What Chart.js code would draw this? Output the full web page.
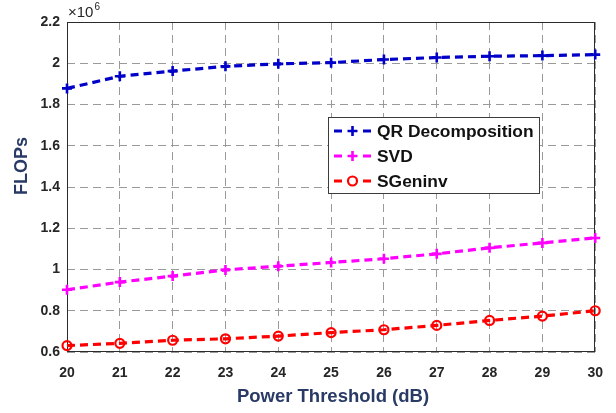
<!DOCTYPE html>
<html>
<head>
<meta charset="utf-8">
<script src="https://cdn.jsdelivr.net/npm/chart.js@4/dist/chart.umd.min.js"></script>
<style>
  html, body { margin: 0; padding: 0; background: #ffffff; }
  #wrap { width: 616px; height: 413px; }
</style>
</head>
<body>
<div id="wrap"><canvas id="c" width="616" height="413"></canvas></div>
<script>
// ---- data ----
const powerThresholdDb = [20, 21, 22, 23, 24, 25, 26, 27, 28, 29, 30];
const qrFlops      = [1878000, 1937000, 1962000, 1985000, 1997000, 2003000, 2018000, 2028000, 2034000, 2037000, 2042000];
const svdFlops     = [902000, 939000, 968000, 998000, 1016000, 1034000, 1052000, 1076000, 1105000, 1129000, 1153000];
const sgeninvFlops = [631000, 642000, 657000, 664000, 677000, 694000, 708000, 729000, 753000, 774000, 800000];
const seriesLabels = ['QR Decomposition', 'SVD', 'SGeninv'];
const xTitle = 'Power Threshold (dB)';
const yTitle = 'FLOPs';
const yTickValues = [600000, 800000, 1000000, 1200000, 1400000, 1600000, 1800000, 2000000, 2200000];

const COLORS = ['#0000c8', '#ff00ff', '#ff0000'];
const STYLES = ['cross', 'cross', 'circle'];
const FONT = "'Liberation Sans', Arial, Helvetica, sans-serif";
const TITLE_COLOR = '#2a3a66';

function pts(arr) { return arr.map((v, i) => ({ x: powerThresholdDb[i], y: v })); }

function makeDataset(i, arr) {
  const isCircle = STYLES[i] === 'circle';
  return {
    label: seriesLabels[i],
    data: pts(arr),
    borderColor: COLORS[i],
    backgroundColor: COLORS[i],
    borderWidth: 3.2,
    borderDash: [8, 5],
    pointStyle: STYLES[i],
    pointRadius: isCircle ? 4.5 : 5,
    pointBorderWidth: isCircle ? 2.2 : 2.6,
    pointBorderColor: COLORS[i],
    pointBackgroundColor: isCircle ? 'rgba(255,255,255,0)' : COLORS[i],
    tension: 0,
    clip: false
  };
}

function drawMarker(ctx, style, x, y, color) {
  ctx.save();
  ctx.strokeStyle = color;
  ctx.setLineDash([]);
  if (style === 'circle') {
    ctx.lineWidth = 2.2;
    ctx.beginPath();
    ctx.arc(x, y, 4.5, 0, Math.PI * 2);
    ctx.stroke();
  } else {
    ctx.lineWidth = 2.6;
    ctx.beginPath();
    ctx.moveTo(x - 5, y); ctx.lineTo(x + 5, y);
    ctx.moveTo(x, y - 5); ctx.lineTo(x, y + 5);
    ctx.stroke();
  }
  ctx.restore();
}

const decorPlugin = {
  id: 'decor',
  beforeDatasetsDraw(chart) {
    const { ctx, chartArea: a } = chart;
    ctx.save();
    ctx.strokeStyle = '#2b2b2b';
    ctx.lineWidth = 1;
    ctx.setLineDash([]);
    ctx.strokeRect(Math.round(a.left) + 0.5, Math.round(a.top) + 0.5,
                   Math.round(a.right - a.left) - 1, Math.round(a.bottom - a.top) - 1);
    ctx.restore();
  },
  afterDraw(chart) {
    const { ctx, chartArea: a } = chart;
    ctx.save();
    // exponent label
    ctx.fillStyle = '#262626';
    ctx.textBaseline = 'alphabetic';
    ctx.textAlign = 'left';
    ctx.font = '15px ' + FONT;
    ctx.fillText('\u00d710', a.left + 1, 17);
    const w = ctx.measureText('\u00d710').width;
    ctx.font = '10px ' + FONT;
    ctx.fillText('6', a.left + 1 + w + 1, 10);

    // axis titles
    ctx.fillStyle = TITLE_COLOR;
    ctx.font = 'bold 18.5px ' + FONT;
    ctx.textAlign = 'center';
    ctx.textBaseline = 'middle';
    ctx.fillText(xTitle, 333, 397);
    ctx.font = 'bold 18px ' + FONT;
    ctx.save();
    ctx.translate(22, 166);
    ctx.rotate(-Math.PI / 2);
    ctx.fillText(yTitle, 0, 0);
    ctx.restore();

    // legend box inside the plot
    const bx = 328, by = 117, bw = 211, bh = 76;
    ctx.fillStyle = '#ffffff';
    ctx.fillRect(bx, by, bw, bh);
    ctx.strokeStyle = '#3c3c3c';
    ctx.lineWidth = 1;
    ctx.setLineDash([]);
    ctx.strokeRect(bx + 0.5, by + 0.5, bw, bh);
    const rows = [131, 156, 181];
    chart.data.datasets.forEach((ds, i) => {
      const y = rows[i];
      ctx.strokeStyle = COLORS[i];
      ctx.lineWidth = 3.2;
      ctx.setLineDash([]);
      ctx.beginPath();
      ctx.moveTo(334, y); ctx.lineTo(342, y);
      ctx.moveTo(363, y); ctx.lineTo(371, y);
      ctx.stroke();
      drawMarker(ctx, STYLES[i], 352.5, y, COLORS[i]);
      ctx.fillStyle = '#111111';
      ctx.font = 'bold 17.4px ' + FONT;
      ctx.textAlign = 'left';
      ctx.textBaseline = 'middle';
      ctx.fillText(ds.label, 377, y + 1);
    });
    ctx.restore();
  }
};

new Chart(document.getElementById('c'), {
  type: 'line',
  data: {
    datasets: [
      makeDataset(0, qrFlops),
      makeDataset(1, svdFlops),
      makeDataset(2, sgeninvFlops)
    ]
  },
  options: {
    responsive: false,
    animation: false,
    devicePixelRatio: 1,
    layout: { padding: { top: 22, right: 18, left: 0, bottom: 0 } },
    plugins: { legend: { display: false }, tooltip: { enabled: false }, title: { display: false } },
    scales: {
      x: {
        type: 'linear',
        min: 20, max: 30,
        afterFit(scale) { scale.height = 61; },
        ticks: {
          stepSize: 1,
          padding: 13,
          color: '#262626',
          font: { family: FONT, size: 14, weight: 'bold' },
          maxRotation: 0
        },
        grid: { color: '#9a9a9a', lineWidth: 1, drawTicks: false },
        border: { display: false, dash: [8, 5] }
      },
      y: {
        type: 'linear',
        min: 600000, max: 2200000,
        afterFit(scale) { scale.width = 67; },
        afterBuildTicks(scale) { scale.ticks = yTickValues.map(v => ({ value: v })); },
        ticks: {
          padding: 7,
          color: '#262626',
          font: { family: FONT, size: 14, weight: 'bold' },
          callback: v => String(parseFloat((v / 1e6).toFixed(1)))
        },
        grid: { color: '#9a9a9a', lineWidth: 1, drawTicks: false },
        border: { display: false, dash: [8, 5] }
      }
    }
  },
  plugins: [decorPlugin]
});
</script>
</body>
</html>
